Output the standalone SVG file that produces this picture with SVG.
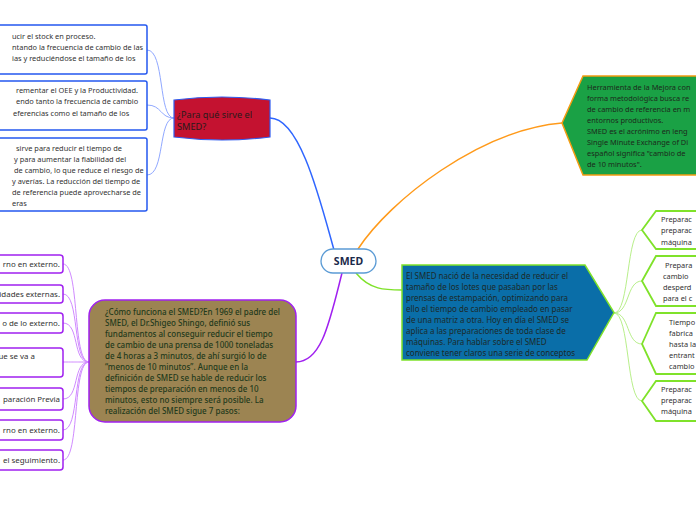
<svg xmlns="http://www.w3.org/2000/svg" width="696" height="520" viewBox="0 0 696 520">
<style>
.t{font-family:"Noto Sans","Open Sans",sans-serif;font-size:7.4px;fill:#333}
.tp{font-family:"Noto Sans","Open Sans",sans-serif;font-size:7.9px;fill:#333}
.tg{font-family:"Noto Sans","Open Sans",sans-serif;font-size:7.4px;fill:#1c2a1c}
.tb{font-family:"Noto Sans","Open Sans",sans-serif;font-size:8px;fill:#1c2a2a}
.to{font-family:"Noto Sans","Open Sans",sans-serif;font-size:8px;fill:#1f3a1c;font-weight:500}
.tr{font-family:"Noto Sans","Open Sans",sans-serif;font-size:9.2px;fill:#2a1a1a}
.bluebox{fill:#fff;stroke:#2458f0;stroke-width:1.5}
.purbox{fill:#fff;stroke:#a020f0;stroke-width:1.5}
.limebox{fill:#fff;stroke:#7fe22a;stroke-width:1.8}
.c{fill:none}
</style>
<rect width="696" height="520" fill="#fff"/>
<g id="connectors">
  <path class="c" d="M270,118 C300,118 320,200 334,250" stroke="#2f66ff" stroke-width="1.5"/>
  <path class="c" d="M174,118 C158,118 165,50 147,50" stroke="#90a8ff" stroke-width="1"/>
  <path class="c" d="M174,118 C160,118 162,105 147,105" stroke="#90a8ff" stroke-width="1"/>
  <path class="c" d="M174,118 C158,118 165,175 147,175" stroke="#90a8ff" stroke-width="1"/>
  <path class="c" d="M358,249 C390,200 480,130 562,123" stroke="#ff9a1a" stroke-width="1.5"/>
  <path class="c" d="M356,273 C370,290 385,290 402,290" stroke="#7fe22a" stroke-width="1.5"/>
  <path class="c" d="M614,313 C630,313 626,230 642,230" stroke="#b8ef8a" stroke-width="1"/>
  <path class="c" d="M614,313 C630,313 626,281 642,281" stroke="#b8ef8a" stroke-width="1"/>
  <path class="c" d="M614,313 C630,313 626,344 642,344" stroke="#b8ef8a" stroke-width="1"/>
  <path class="c" d="M614,313 C630,313 626,401 642,401" stroke="#b8ef8a" stroke-width="1"/>
  <path class="c" d="M342,273 C330,320 322,362 296,362" stroke="#a020f0" stroke-width="1.5"/>
  <path class="c" d="M89,362 C72,362 80,264 63,264" stroke="#d08aff" stroke-width="1"/>
  <path class="c" d="M89,362 C72,362 80,294 63,294" stroke="#d08aff" stroke-width="1"/>
  <path class="c" d="M89,362 C72,362 80,323 63,323" stroke="#d08aff" stroke-width="1"/>
  <path class="c" d="M89,362 C72,362 80,362 63,362" stroke="#d08aff" stroke-width="1"/>
  <path class="c" d="M89,362 C72,362 80,399 63,399" stroke="#d08aff" stroke-width="1"/>
  <path class="c" d="M89,362 C72,362 80,430 63,430" stroke="#d08aff" stroke-width="1"/>
  <path class="c" d="M89,362 C72,362 80,460 63,460" stroke="#d08aff" stroke-width="1"/>
</g>
<g id="smed">
  <rect x="321" y="249" width="55" height="24" rx="12" fill="#fff" stroke="#5b9bd5" stroke-width="1.3"/>
  <text x="348.5" y="265" text-anchor="middle" font-family="'Noto Sans',sans-serif" font-size="10.5" font-weight="bold" fill="#1b2a4a">SMED</text>
</g>
<g id="para-que">
  <path d="M174,100 Q222,94 270,100 L270,137 Q222,143 174,137 Z" fill="#c41230" stroke="#2f5cf0" stroke-width="1.2"/>
  <text class="tr" x="177" y="118">¿Para qué sirve el</text>
  <text class="tr" x="177" y="130">SMED?</text>
</g>
<g id="sirve1">
  <rect class="bluebox" x="-10" y="25" width="157" height="49" rx="2"/>
  <text class="t" x="12" y="39">ucir el stock en proceso.</text>
  <text class="t" x="12" y="50">ntando la frecuencia de cambio de las</text>
  <text class="t" x="12" y="61">ias y reduciéndose  el tamaño de los</text>
</g>
<g id="sirve2">
  <rect class="bluebox" x="-10" y="81" width="157" height="49" rx="2"/>
  <text class="t" x="16" y="93">rementar el OEE y la Productividad.</text>
  <text class="t" x="16" y="104">endo tanto la frecuencia de cambio</text>
  <text class="t" x="13" y="116">eferencias como el tamaño de los</text>
</g>
<g id="sirve3">
  <rect class="bluebox" x="-10" y="138" width="157" height="73" rx="2"/>
  <text class="t" x="16" y="151">sirve para reducir el tiempo de</text>
  <text class="t" x="14" y="162">y para aumentar la fiabilidad del</text>
  <text class="t" x="14" y="173">de cambio, lo que reduce el riesgo de</text>
  <text class="t" x="12" y="184">y averías. La reducción del tiempo de</text>
  <text class="t" x="12" y="195">de referencia puede aprovecharse de</text>
  <text class="t" x="12" y="206">eras</text>
</g>
<g id="herramienta">
  <polygon points="562,123 583,76 700,76 700,175 583,175" fill="#1aa145" stroke="#f39c12" stroke-width="1.5"/>
  <text class="tg" x="587" y="90">Herramienta de la Mejora con</text>
  <text class="tg" x="587" y="101">forma metodológica busca re</text>
  <text class="tg" x="587" y="112">de cambio de referencia en m</text>
  <text class="tg" x="587" y="123">entornos productivos.</text>
  <text class="tg" x="587" y="134">SMED es el acrónimo en leng</text>
  <text class="tg" x="587" y="145">Single Minute Exchange of Di</text>
  <text class="tg" x="587" y="156">español significa "cambio de</text>
  <text class="tg" x="587" y="167">de 10 minutos".</text>
</g>
<g id="nacio">
  <polygon points="402,265 585,265 614,312.5 587,360 402,360" fill="#0a6ea8" stroke="#7fe22a" stroke-width="1.5"/>
  <text class="tb" x="406" y="279">El SMED nació de la necesidad de reducir el</text>
  <text class="tb" x="406" y="290">tamaño de los lotes que pasaban por las</text>
  <text class="tb" x="406" y="301">prensas de estampación, optimizando para</text>
  <text class="tb" x="406" y="312">ello el tiempo de cambio empleado en pasar</text>
  <text class="tb" x="406" y="323">de una matriz a otra. Hoy en día el SMED se</text>
  <text class="tb" x="406" y="334">aplica a las preparaciones de toda clase de</text>
  <text class="tb" x="406" y="345">máquinas. Para hablar sobre el SMED</text>
  <text class="tb" x="406" y="356">conviene tener claros una serie de conceptos</text>
</g>
<g id="concepto1">
  <polygon class="limebox" points="642,230 656,211 700,211 700,249 656,249"/>
  <text class="t" x="661" y="222">Preparac</text>
  <text class="t" x="661" y="233">preparac</text>
  <text class="t" x="661" y="245">máquina</text>
</g>
<g id="concepto2">
  <polygon class="limebox" points="642,281 656,256 700,256 700,306 656,306"/>
  <text class="t" x="665" y="268">Prepara</text>
  <text class="t" x="663" y="279">cambio</text>
  <text class="t" x="663" y="290">desperd</text>
  <text class="t" x="663" y="301">para el c</text>
</g>
<g id="concepto3">
  <polygon class="limebox" points="642,344 656,313 700,313 700,374 656,374"/>
  <text class="t" x="669" y="325">Tiempo</text>
  <text class="t" x="669" y="336">fabrica</text>
  <text class="t" x="669" y="347">hasta la</text>
  <text class="t" x="669" y="358">entrant</text>
  <text class="t" x="669" y="369">cambio</text>
</g>
<g id="concepto4">
  <polygon class="limebox" points="642,401 656,381 700,381 700,421 656,421"/>
  <text class="t" x="661" y="392">Preparac</text>
  <text class="t" x="661" y="403">preparac</text>
  <text class="t" x="661" y="414">máquina</text>
</g>
<g id="como-funciona">
  <rect x="89" y="300" width="207" height="122" rx="16" fill="#9c8452" stroke="#a020f0" stroke-width="1.5"/>
  <text class="to" x="105" y="315">¿Cómo funciona el SMED?En 1969 el padre del</text>
  <text class="to" x="105" y="326">SMED, el Dr.Shigeo Shingo, definió sus</text>
  <text class="to" x="105" y="337">fundamentos al conseguir reducir el tiempo</text>
  <text class="to" x="105" y="348">de cambio de una prensa de 1000 toneladas</text>
  <text class="to" x="105" y="359">de 4 horas a 3 minutos, de ahí surgió lo de</text>
  <text class="to" x="105" y="370">“menos de 10 minutos”. Aunque en la</text>
  <text class="to" x="105" y="381">definición de SMED se hable de reducir los</text>
  <text class="to" x="105" y="392">tiempos de preparación en menos de 10</text>
  <text class="to" x="105" y="403">minutos, esto no siempre será posible. La</text>
  <text class="to" x="105" y="414">realización del SMED sigue 7 pasos:</text>
</g>
<g id="paso1">
  <rect class="purbox" x="-10" y="255" width="73" height="18" rx="3"/>
  <text class="tp" x="60" y="267" text-anchor="end">rno en externo.</text>
</g>
<g id="paso2">
  <rect class="purbox" x="-10" y="285" width="73" height="18" rx="3"/>
  <text class="tp" x="60" y="297" text-anchor="end">idades externas.</text>
</g>
<g id="paso3">
  <rect class="purbox" x="-10" y="313" width="73" height="20" rx="3"/>
  <text class="tp" x="60" y="326" text-anchor="end">o de lo externo.</text>
</g>
<g id="paso4">
  <rect class="purbox" x="-10" y="348" width="73" height="29" rx="3"/>
  <text class="tp" x="35" y="359" text-anchor="end">ue se va a</text>
</g>
<g id="paso5">
  <rect class="purbox" x="-10" y="388" width="73" height="22" rx="3"/>
  <text class="tp" x="60" y="402" text-anchor="end">paración Previa</text>
</g>
<g id="paso6">
  <rect class="purbox" x="-10" y="420" width="73" height="20" rx="3"/>
  <text class="tp" x="60" y="433" text-anchor="end">rno en externo.</text>
</g>
<g id="paso7">
  <rect class="purbox" x="-10" y="450" width="73" height="20" rx="3"/>
  <text class="tp" x="60" y="463" text-anchor="end">el seguimiento.</text>
</g>
</svg>
